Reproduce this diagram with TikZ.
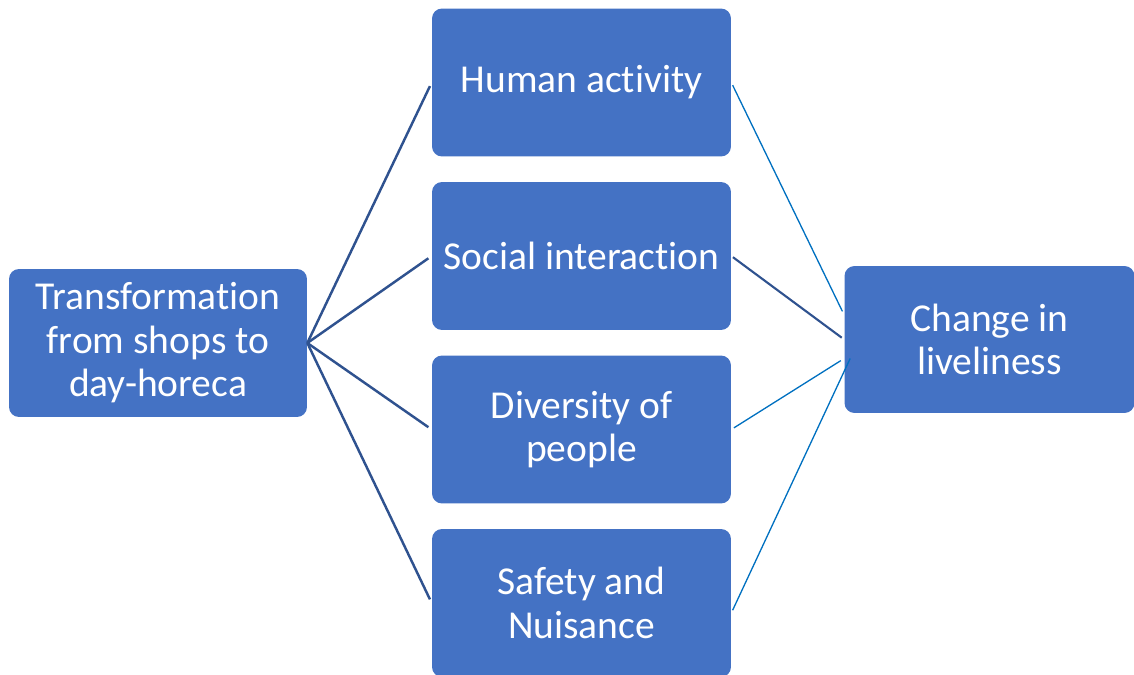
\documentclass[tikz,border=0pt]{standalone}
\usepackage{fontspec}
\setmainfont{Carlito}[RawFeature=-liga]
\definecolor{boxblue}{HTML}{4472C4}
\definecolor{linkdark}{HTML}{2F528F}
\definecolor{linklight}{HTML}{0070C0}
\tikzset{
  factor/.style={fill=boxblue, rounded corners=0.2cm, text=white, align=center,
    minimum width=5.98cm, minimum height=2.96cm, inner sep=0pt,
    font=\fontsize{22.5}{24.8}\selectfont},
  strong/.style={draw=linkdark, line width=1.4pt},
  weak/.style={draw=linklight, line width=0.75pt}
}
\begin{document}
\begin{tikzpicture}[x=0.02cm,y=-0.02cm]
\useasboundingbox (0,0) rectangle (1134,675);
%boxes
\node[factor, minimum width=5.96cm] (trans) at (158,343) {Transformation\\from shops to\\day-horeca};
\node[factor] (human) at (581.5,82.5) {Human activity};
\node[factor] (social) at (581.5,256) {Social interaction};
\node[factor] (diverse) at (581.5,429.5) {Diversity of\\people};
\node[factor] (safety) at (581.5,603) {Safety and\\Nuisance};
\node[factor, minimum width=5.8cm, minimum height=2.94cm] (live) at (989.5,339.5) {Change in\\liveliness};
%left links
\foreach \m in {human,social,diverse,safety}
  \draw[strong, shorten >=0.08cm] (trans.east) -- (\m.west);
%right links
\draw[weak, shorten <=0.06cm, shorten >=0.08cm] (human.east) -- ([yshift=0.49cm]live.west);
\draw[strong, line width=1.2pt, shorten <=0.04cm, shorten >=0.06cm] (social.east) -- (live.west);
\draw[weak, shorten <=0.06cm, shorten >=0.08cm] (diverse.east) -- ([yshift=-0.38cm]live.west);
\draw[weak, shorten <=0.06cm] ([yshift=-0.2cm]safety.east) -- ([xshift=0.12cm,yshift=-0.38cm]live.west);
\end{tikzpicture}
\end{document}
